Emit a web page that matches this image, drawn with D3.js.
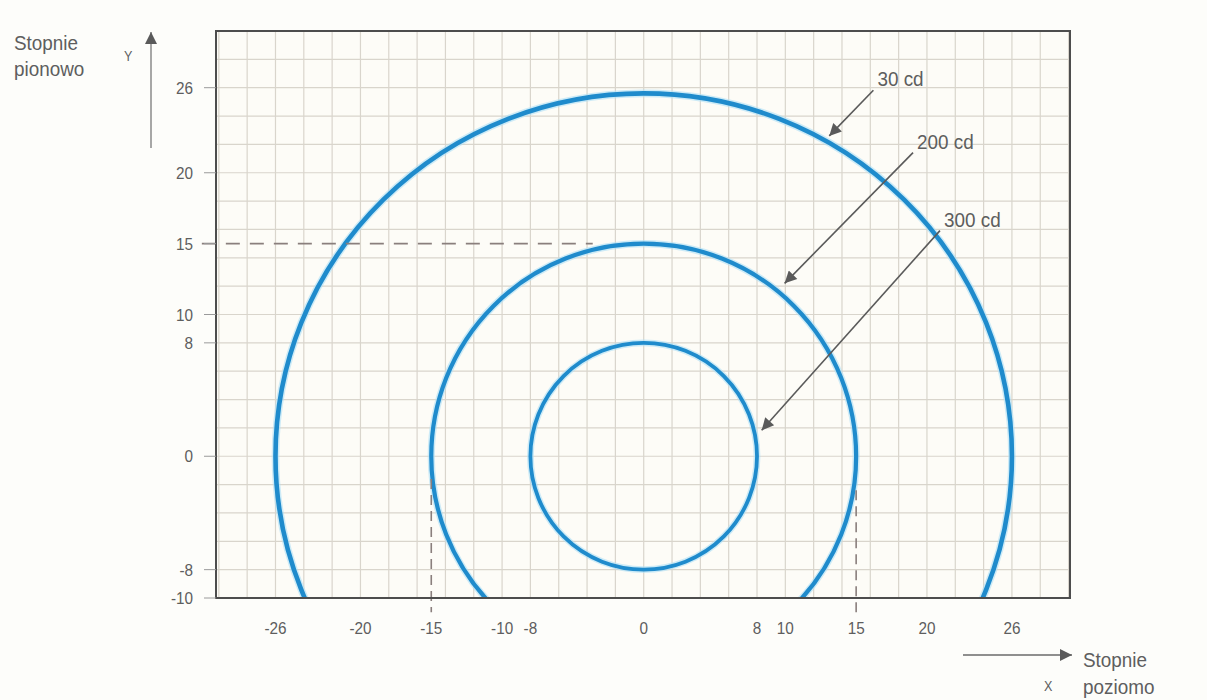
<!DOCTYPE html>
<html>
<head>
<meta charset="utf-8">
<script src="https://cdn.jsdelivr.net/npm/d3@7"></script>
<style>
  body { margin: 0; background: #fdfdfa; }
  text { font-family: "Liberation Sans", Arial, sans-serif; fill: #5e5e5e; }
</style>
</head>
<body>
<svg id="chart" width="1207" height="700"></svg>
<script>
// Tick values shown on each axis
const xTicks = [-26, -20, -15, -10, -8, 0, 8, 10, 15, 20, 26];
const yTicks = [26, 20, 15, 10, 8, 0, -8, -10];

// Iso-candela contours: label and angular half-widths (degrees, horizontal / vertical)
const isoLabels = ["30 cd", "200 cd", "300 cd"];
const isoRadiiH = [26, 15, 8];
const isoRadiiV = [25.6, 15, 8];

// Callouts: where each label sits and where its arrow points (degrees)
const calloutText = [[16.5, 26.1], [19.3, 21.7], [21.2, 16.2]];
const calloutTip = [[13.1, 22.6], [9.95, 12.2], [8.33, 1.83]];

// Reference guides for the 15° limits
const guideLevel = 15;
const guideHStart = -31.2, guideHEnd = -3.6;
const guideVTop = [-1.6, -2.4], guideVBottom = -11;

const svg = d3.select("#chart");
const plot = { left: 216, right: 1070, top: 31, bottom: 598 };

const x = d3.scaleLinear().domain([-30.2, 30.1]).range([plot.left, plot.right]);
const y = d3.scaleLinear().domain([-10, 30]).range([plot.bottom, plot.top]);

// Condensed-looking text: anchor at (px, py) and squeeze horizontally
const squeeze = 0.9;
const place = (px, py) => `translate(${px},${py}) scale(${squeeze},1)`;

// Plot background
svg.append("rect")
  .attr("x", plot.left).attr("y", plot.top)
  .attr("width", plot.right - plot.left).attr("height", plot.bottom - plot.top)
  .attr("fill", "#fdfcf7");

// Grid every 2 degrees
const gx = d3.range(-30, 31, 2), gy = d3.range(-10, 31, 2);
const grid = svg.append("g").attr("stroke", "#d9d5cc").attr("stroke-width", 1.2);
grid.selectAll("line.v").data(gx).join("line")
  .attr("x1", d => x(d)).attr("x2", d => x(d))
  .attr("y1", plot.top).attr("y2", plot.bottom);
grid.selectAll("line.h").data(gy).join("line")
  .attr("x1", plot.left).attr("x2", plot.right)
  .attr("y1", d => y(d)).attr("y2", d => y(d));

// Clip contours to the plot frame
svg.append("clipPath").attr("id", "clip").append("rect")
  .attr("x", plot.left).attr("y", plot.top)
  .attr("width", plot.right - plot.left).attr("height", plot.bottom - plot.top);

const contours = svg.append("g").attr("clip-path", "url(#clip)");
const widths = [4.6, 4.2, 3.8];
contours.selectAll("ellipse.halo").data(isoRadiiH).join("ellipse")
  .attr("cx", x(0)).attr("cy", y(0))
  .attr("rx", d => x(d) - x(0)).attr("ry", (d, i) => y(0) - y(isoRadiiV[i]))
  .attr("fill", "none").attr("stroke", "#aee0f7").attr("stroke-opacity", 0.6)
  .attr("stroke-width", (d, i) => widths[i] + 3);
contours.selectAll("ellipse.iso").data(isoRadiiH).join("ellipse")
  .attr("cx", x(0)).attr("cy", y(0))
  .attr("rx", d => x(d) - x(0)).attr("ry", (d, i) => y(0) - y(isoRadiiV[i]))
  .attr("fill", "none").attr("stroke", "#1f8bcc")
  .attr("stroke-width", (d, i) => widths[i]);

// Dashed guides
const dash = svg.append("g").attr("stroke", "#8a7f7d").attr("stroke-width", 1.6)
  .attr("stroke-dasharray", "14,10");
dash.append("line")
  .attr("x1", x(guideHStart)).attr("x2", x(guideHEnd))
  .attr("y1", y(guideLevel)).attr("y2", y(guideLevel));
dash.selectAll("line.v").data([-guideLevel, guideLevel]).join("line")
  .attr("x1", d => x(d)).attr("x2", d => x(d))
  .attr("y1", (d, i) => y(guideVTop[i])).attr("y2", y(guideVBottom))
  .attr("stroke-dasharray", "10,6");

// Frame
svg.append("rect")
  .attr("x", plot.left).attr("y", plot.top)
  .attr("width", plot.right - plot.left).attr("height", plot.bottom - plot.top)
  .attr("fill", "none").attr("stroke", "#4d4d4d").attr("stroke-width", 2);

// Y axis ticks and labels
const yAxis = svg.append("g");
yAxis.selectAll("line").data(yTicks).join("line")
  .attr("x1", plot.left - 12).attr("x2", plot.left)
  .attr("y1", d => y(d)).attr("y2", d => y(d))
  .attr("stroke", "#9a9a9a").attr("stroke-width", 1);
yAxis.selectAll("text").data(yTicks).join("text")
  .attr("transform", d => place(193, y(d))).attr("dy", "0.36em")
  .attr("text-anchor", "end").attr("font-size", 17)
  .text(d => d);

// X axis labels
svg.append("g").selectAll("text").data(xTicks).join("text")
  .attr("transform", d => place(x(d), 628)).attr("dy", "0.36em")
  .attr("text-anchor", "middle").attr("font-size", 17)
  .text(d => d);

// Arrowhead marker
const defs = svg.append("defs");
defs.append("marker").attr("id", "bighead")
  .attr("viewBox", "0 0 10 10").attr("refX", 10).attr("refY", 5)
  .attr("markerWidth", 15).attr("markerHeight", 12)
  .attr("markerUnits", "userSpaceOnUse").attr("orient", "auto")
  .append("path").attr("d", "M0,0 L10,5 L0,10 Z").attr("fill", "#5a5a5a");

// Callouts
const callouts = svg.append("g");
callouts.selectAll("line").data(isoLabels).join("line")
  .attr("x1", (d, i) => x(calloutText[i][0]) - 4)
  .attr("y1", (d, i) => y(calloutText[i][1]) + 4)
  .attr("x2", (d, i) => x(calloutTip[i][0]))
  .attr("y2", (d, i) => y(calloutTip[i][1]))
  .attr("stroke", "#5a5a5a").attr("stroke-width", 1.6)
  .attr("marker-end", "url(#bighead)");
callouts.selectAll("text").data(isoLabels).join("text")
  .attr("transform", (d, i) => place(x(calloutText[i][0]), y(calloutText[i][1])))
  .attr("font-size", 21)
  .text(d => d);

// Axis direction indicators
svg.append("line").attr("x1", 151).attr("x2", 151).attr("y1", 148).attr("y2", 32)
  .attr("stroke", "#8a8a8a").attr("stroke-width", 1.5).attr("marker-end", "url(#bighead)");
svg.append("text").attr("transform", place(124, 61)).attr("font-size", 14).text("Y");
svg.append("text").attr("transform", place(14, 50)).attr("font-size", 21).text("Stopnie");
svg.append("text").attr("transform", place(14, 76)).attr("font-size", 21).text("pionowo");

svg.append("line").attr("x1", 963).attr("x2", 1072).attr("y1", 655).attr("y2", 655)
  .attr("stroke", "#6a6a6a").attr("stroke-width", 1.5).attr("marker-end", "url(#bighead)");
svg.append("text").attr("transform", place(1044, 691)).attr("font-size", 14).text("X");
svg.append("text").attr("transform", place(1083, 667)).attr("font-size", 21).text("Stopnie");
svg.append("text").attr("transform", place(1083, 694)).attr("font-size", 21).text("poziomo");
</script>
</body>
</html>
